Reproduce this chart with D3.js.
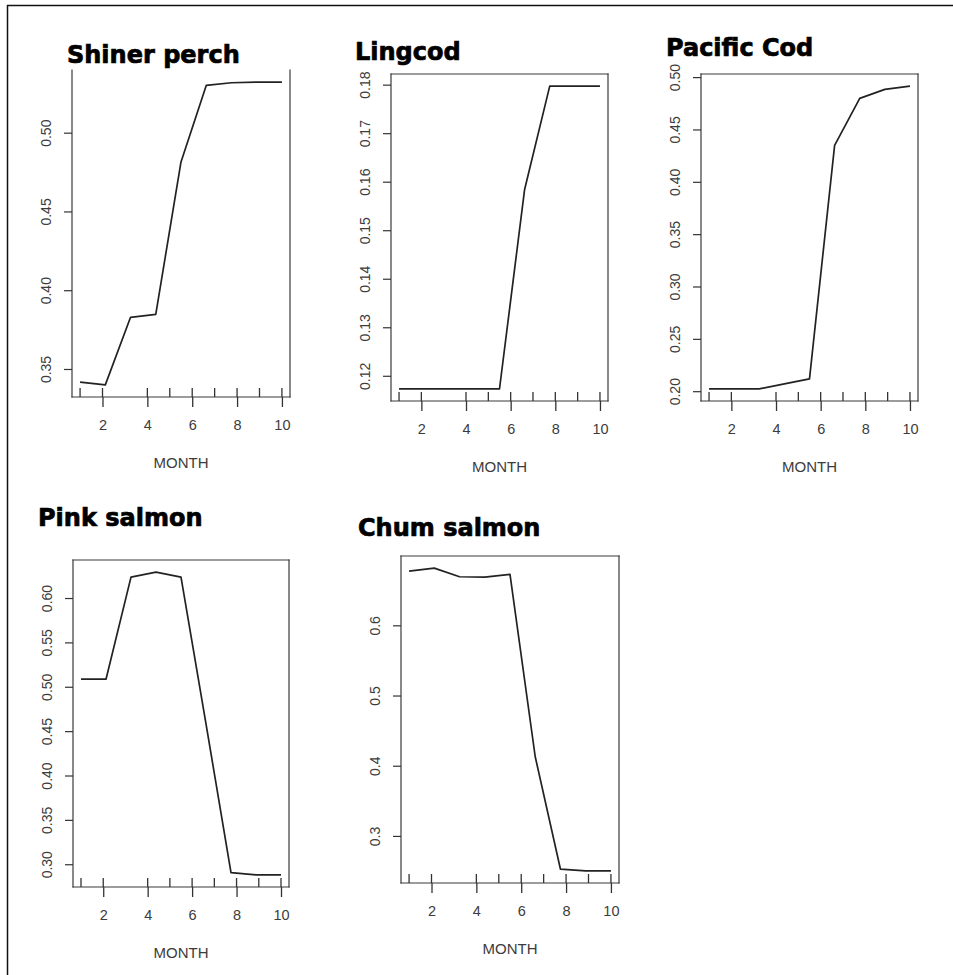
<!DOCTYPE html>
<html>
<head>
<meta charset="utf-8">
<script src="https://cdn.jsdelivr.net/npm/d3@7/dist/d3.min.js"></script>
<style>
  html, body { margin: 0; padding: 0; background: #fff; }
  svg { display: block; }
</style>
</head>
<body>
<svg id="chart" width="953" height="975"></svg>
<script>
// ---- data ----
const months = [1, 2.125, 3.25, 4.375, 5.5, 6.625, 7.75, 8.875, 10];
const rugMonths = [1, 2, 4, 5, 6, 7, 8, 9, 10];
const xTicks = [2, 4, 6, 8, 10];
const xLabel = "MONTH";

const titles = ["Shiner perch", "Lingcod", "Pacific Cod", "Pink salmon", "Chum salmon"];

const shinerPerch = [0.3416, 0.3399, 0.3828, 0.3847, 0.4814, 0.5300, 0.5317, 0.5321, 0.5321];
const lingcod     = [0.1173, 0.1173, 0.1173, 0.1173, 0.1173, 0.1584, 0.1797, 0.1797, 0.1797];
const pacificCod  = [0.2022, 0.2022, 0.2022, 0.2070, 0.2117, 0.4348, 0.4797, 0.4883, 0.4914];
const pinkSalmon  = [0.5085, 0.5085, 0.6236, 0.6292, 0.6236, 0.4582, 0.2906, 0.2880, 0.2880];
const chumSalmon  = [0.6772, 0.6815, 0.6692, 0.6687, 0.6725, 0.4128, 0.2526, 0.2502, 0.2502];

const yTicksShiner = [0.35, 0.40, 0.45, 0.50];
const yTicksLing   = [0.12, 0.13, 0.14, 0.15, 0.16, 0.17, 0.18];
const yTicksCod    = [0.20, 0.25, 0.30, 0.35, 0.40, 0.45, 0.50];
const yTicksPink   = [0.30, 0.35, 0.40, 0.45, 0.50, 0.55, 0.60];
const yTicksChum   = [0.3, 0.4, 0.5, 0.6];
const yFormats = [".2f", ".2f", ".2f", ".2f", ".1f"];

// ---- layout ----
const panels = [
  { series: shinerPerch, ticks: yTicksShiner, box: [72, 290, 70, 397],  title: [67, 62.5],  noTop: true },
  { series: lingcod,     ticks: yTicksLing,   box: [391, 608, 74, 401], title: [355, 59.5] },
  { series: pacificCod,  ticks: yTicksCod,    box: [701, 918, 74, 401], title: [666, 56] },
  { series: pinkSalmon,  ticks: yTicksPink,   box: [73, 289, 560, 887], title: [38, 526] },
  { series: chumSalmon,  ticks: yTicksChum,   box: [401, 619, 556, 883], title: [358, 535.5] }
];

const svg = d3.select("#chart");
const tickFont = "Liberation Sans, Arial, sans-serif";
const textCol = "#3c3c3c";

// outer frame (top and left edges only, as in the reference)
svg.append("line").attr("x1", 7).attr("x2", 953).attr("y1", 5.5).attr("y2", 5.5)
  .attr("stroke", "#111").attr("stroke-width", 1.5);
svg.append("line").attr("x1", 7.5).attr("x2", 7.5).attr("y1", 5).attr("y2", 975)
  .attr("stroke", "#111").attr("stroke-width", 1.5);

function padded(ext) {
  const r = ext[1] - ext[0];
  return [ext[0] - 0.04 * r, ext[1] + 0.04 * r];
}

panels.forEach((p, i) => {
  const [x0, x1, y0, y1] = p.box;
  const x = d3.scaleLinear().domain(padded(d3.extent(months))).range([x0, x1]);
  const y = d3.scaleLinear().domain(padded(d3.extent(p.series))).range([y1, y0]);
  const g = svg.append("g");

  // title
  g.append("text")
    .attr("x", p.title[0]).attr("y", p.title[1])
    .attr("font-family", "DejaVu Sans, sans-serif")
    .attr("font-weight", "bold")
    .attr("font-size", 24)
    .attr("fill", "#000")
    .attr("stroke", "#000")
    .attr("stroke-width", 0.7)
    .text(titles[i]);

  // box
  const boxCol = "#3a3a3a";
  const edges = [
    [x0, y1, x1, y1],
    [x0, y0, x0, y1],
    [x1, y0, x1, y1]
  ];
  if (!p.noTop) edges.push([x0, y0, x1, y0]);
  edges.forEach(e => {
    g.append("line").attr("x1", e[0]).attr("y1", e[1]).attr("x2", e[2]).attr("y2", e[3])
      .attr("stroke", boxCol).attr("stroke-width", 1.2).attr("stroke-linecap", "square");
  });

  // x axis
  const xAxis = d3.axisBottom(x).tickValues(xTicks).tickSize(10).tickPadding(13)
    .tickFormat(d3.format("d"));
  const xa = g.append("g").attr("transform", `translate(0,${y1})`).call(xAxis);
  xa.select(".domain").remove();
  xa.selectAll("line").attr("stroke", "#333").attr("stroke-width", 1.3);
  xa.selectAll("text").attr("font-family", tickFont).attr("font-size", 14.5).attr("fill", textCol);

  // rug
  g.selectAll(".rug").data(rugMonths).enter().append("line")
    .attr("x1", d => x(d)).attr("x2", d => x(d))
    .attr("y1", y1).attr("y2", y1 - 9)
    .attr("stroke", "#333").attr("stroke-width", 1.3);

  // x label
  g.append("text")
    .attr("x", (x0 + x1) / 2).attr("y", y1 + 71)
    .attr("text-anchor", "middle")
    .attr("font-family", tickFont).attr("font-size", 15).attr("fill", textCol)
    .text(xLabel);

  // y axis
  const yAxis = d3.axisLeft(y).tickValues(p.ticks).tickSize(8).tickFormat(d3.format(yFormats[i]));
  const ya = g.append("g").attr("transform", `translate(${x0},0)`).call(yAxis);
  ya.select(".domain").remove();
  ya.selectAll("line").attr("stroke", "#333").attr("stroke-width", 1.2);
  ya.selectAll("text")
    .attr("font-family", tickFont).attr("font-size", 14).attr("fill", textCol)
    .attr("x", null).attr("dy", null)
    .attr("text-anchor", "middle")
    .attr("transform", "translate(-21,0) rotate(-90)");

  // line
  const line = d3.line().x((d, k) => x(months[k])).y(d => y(d));
  g.append("path").datum(p.series)
    .attr("d", line)
    .attr("fill", "none")
    .attr("stroke", "#222")
    .attr("stroke-width", 1.7)
    .attr("stroke-linejoin", "round");
});
</script>
</body>
</html>
